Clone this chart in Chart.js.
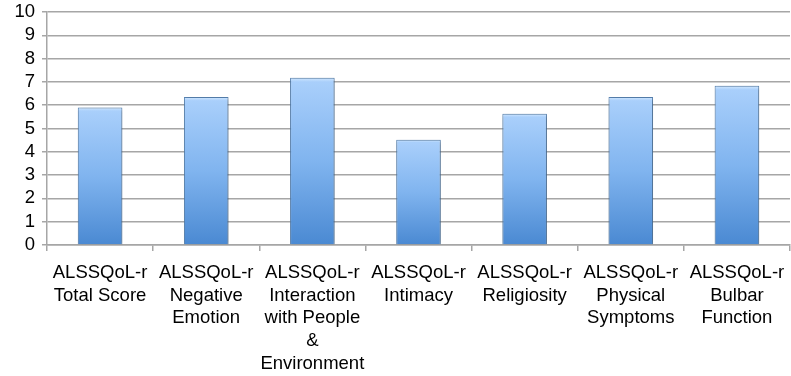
<!DOCTYPE html>
<html><head><meta charset="utf-8">
<script src="https://cdn.jsdelivr.net/npm/chart.js@4"></script>
<style>html,body{margin:0;padding:0;background:#fff}#wrap{width:791px;height:376px}</style>
</head><body><div id="wrap"><canvas id="c" width="791" height="376"></canvas></div>
<script>
const categories = [
  ["ALSSQoL-r","Total Score"],
  ["ALSSQoL-r","Negative","Emotion"],
  ["ALSSQoL-r","Interaction","with People","&","Environment"],
  ["ALSSQoL-r","Intimacy"],
  ["ALSSQoL-r","Religiosity"],
  ["ALSSQoL-r","Physical","Symptoms"],
  ["ALSSQoL-r","Bulbar","Function"]
];
const values = [5.9, 6.35, 7.18, 4.52, 5.63, 6.35, 6.83];
const yTicks = [0,1,2,3,4,5,6,7,8,9,10];

function barFill(ctx){
  const chart = ctx.chart;
  const area = chart.chartArea;
  if(!area || ctx.parsed === undefined) return '#7fb2ec';
  const y = chart.scales.y;
  const top = y.getPixelForValue(ctx.parsed.y);
  const bot = y.getPixelForValue(0);
  const g = chart.ctx.createLinearGradient(0, top, 0, bot);
  g.addColorStop(0, '#d2e8ff');
  g.addColorStop(0.025, '#a9cffb');
  g.addColorStop(0.5, '#80b4ef');
  g.addColorStop(1, '#4a89d2');
  return g;
}

const shadowPlugin = {
  id:'shadow',
  beforeDatasetsDraw(chart){ const c=chart.ctx; c.save(); c.shadowColor='rgba(0,0,0,0.35)'; c.shadowBlur=4; c.shadowOffsetX=1; c.shadowOffsetY=1; },
  afterDatasetsDraw(chart){ chart.ctx.restore(); }
};

new Chart(document.getElementById('c'), {
  type:'bar',
  data:{ labels: categories, datasets:[{ data: values, backgroundColor: barFill, borderColor:'#5a86b6', borderWidth:1, barPercentage:0.42, categoryPercentage:1.0 }]},
  options:{
    responsive:false, animation:false,
    layout:{ padding:{ top:12, right:1, left:0, bottom:0 } },
    plugins:{ legend:{display:false}, tooltip:{enabled:false} },
    scales:{
      x:{
        grid:{ display:true, drawOnChartArea:false, drawTicks:true, tickLength:6, color:'#a6a6a6', lineWidth:1.5, offset:true },
        border:{ display:true, color:'#a6a6a6', width:1.5 },
        ticks:{ color:'#000', font:{ family:'Liberation Sans', size:18.5, lineHeight:1.24 }, padding:10, maxRotation:0, autoSkip:false },
        afterFit(s){ s.height = 131; s.paddingLeft = 0; s.paddingRight = 0; }
      },
      y:{
        min:0, max:10,
        afterBuildTicks(s){ s.ticks = yTicks.map(v=>({value:v})); },
        grid:{ color:'#a6a6a6', lineWidth:1.5, tickLength:5 },
        border:{ display:true, color:'#a6a6a6', width:1.5 },
        ticks:{ color:'#000', font:{ family:'Liberation Sans', size:18.5 }, padding:7, autoSkip:false, stepSize:1 },
        afterFit(s){ s.width = 47; s.paddingTop = 0; s.paddingBottom = 0; }
      }
    }
  },
  plugins:[shadowPlugin]
});
</script></body></html>
